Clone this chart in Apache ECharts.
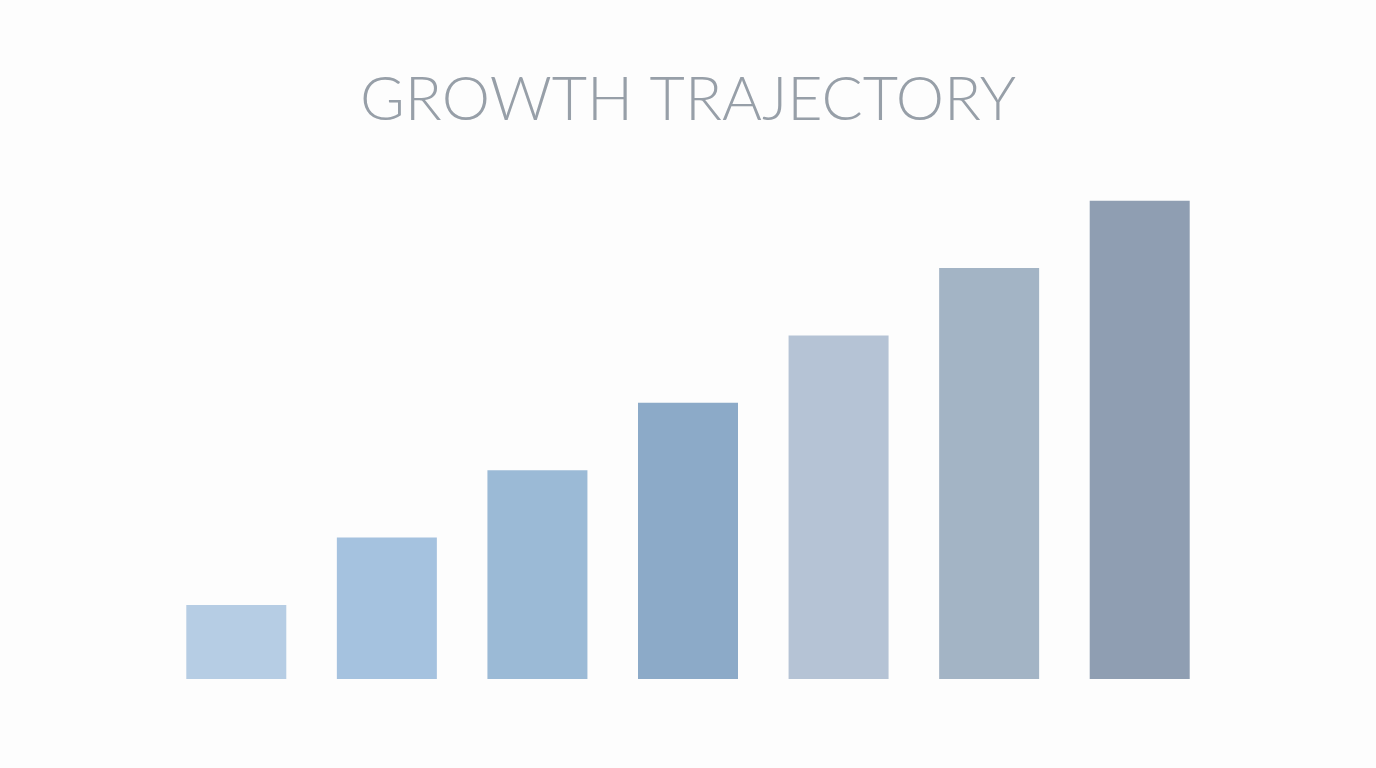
<!DOCTYPE html>
<html><head><meta charset="utf-8">
<script src="https://cdn.jsdelivr.net/npm/echarts@6/dist/echarts.min.js"></script>
<style>html,body{margin:0;padding:0;background:#fdfdfd;}#c{width:1376px;height:768px;}</style>
</head><body><div id="c"></div>
<script>
const categories = ['1','2','3','4','5','6','7'];
const values = [11, 21, 31, 41, 51, 61, 71];
const barColors = ['#b6cde4','#a5c2df','#9bbad6','#8caac8','#b5c3d5','#a3b4c5','#8f9eb2'];
const chart = echarts.init(document.getElementById('c'));
chart.setOption({
  backgroundColor: '#fdfdfd',
  title: {
    text: 'GROWTH TRAJECTORY', left: 'center', top: 65,
    textStyle: { fontFamily: 'Lato', fontWeight: 300, fontSize: 61, color: '#979fa8' }
  },
  grid: { left: 161, right: 161, top: 140, bottom: 89 },
  xAxis: { type: 'category', data: categories, show: false },
  yAxis: { type: 'value', min: 0, max: 80, show: false },
  series: [{
    type: 'bar', barWidth: 100, animation: false,
    data: values.map((v, i) => ({ value: v, itemStyle: { color: barColors[i] } }))
  }]
});
</script></body></html>
